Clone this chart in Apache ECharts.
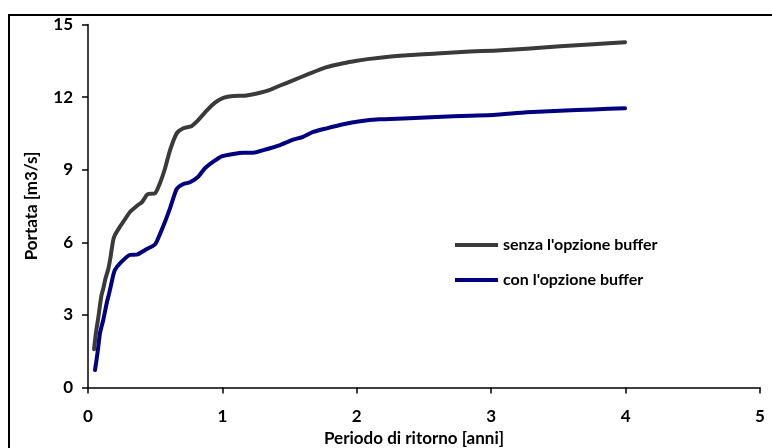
<!DOCTYPE html>
<html>
<head>
<meta charset="utf-8">
<script src="https://cdn.jsdelivr.net/npm/echarts@6/dist/echarts.min.js"></script>
<style>
  html, body { margin: 0; padding: 0; background: #fff; }
  #chart { width: 772px; height: 448px; }
</style>
</head>
<body>
<div id="chart"></div>
<script>
// Return period [years] vs discharge [m3/s]
const seriesNames = ["senza l'opzione buffer", "con l'opzione buffer"];

const senzaBuffer = [
  [0.045, 1.58], [0.06, 2.3], [0.077, 2.9], [0.089, 3.4], [0.10, 3.8], [0.114, 4.1],
  [0.13, 4.5], [0.151, 4.9], [0.165, 5.3], [0.176, 5.7], [0.188, 6.1], [0.20, 6.3],
  [0.238, 6.65], [0.263, 6.85], [0.3125, 7.25], [0.374, 7.55], [0.40, 7.65], [0.437, 7.95],
  [0.45, 8.0], [0.50, 8.03], [0.536, 8.45], [0.573, 9.05], [0.61, 9.8], [0.66, 10.5],
  [0.709, 10.71], [0.77, 10.8], [0.82, 11.05], [0.883, 11.44], [0.945, 11.77], [1.007, 11.97],
  [1.08, 12.05], [1.18, 12.07], [1.28, 12.18], [1.354, 12.3], [1.43, 12.48], [1.503, 12.64],
  [1.652, 12.98], [1.776, 13.24], [1.90, 13.4], [2.0, 13.5], [2.098, 13.58], [2.346, 13.72],
  [2.594, 13.8], [2.842, 13.88], [3.016, 13.92], [3.264, 14.0], [3.512, 14.1], [3.76, 14.18],
  [3.996, 14.27]
];

const conBuffer = [
  [0.052, 0.72], [0.065, 1.2], [0.077, 1.7], [0.089, 2.24], [0.10, 2.5], [0.114, 2.8],
  [0.139, 3.48], [0.16, 3.95], [0.176, 4.35], [0.188, 4.65], [0.20, 4.86], [0.238, 5.13],
  [0.3125, 5.48], [0.362, 5.49], [0.437, 5.72], [0.50, 5.92], [0.536, 6.35], [0.573, 6.85],
  [0.61, 7.4], [0.66, 8.2], [0.709, 8.41], [0.759, 8.48], [0.82, 8.71], [0.87, 9.06],
  [0.932, 9.33], [0.995, 9.55], [1.08, 9.65], [1.156, 9.70], [1.23, 9.70], [1.305, 9.81],
  [1.43, 10.02], [1.528, 10.24], [1.60, 10.36], [1.676, 10.56], [1.776, 10.71], [1.90, 10.88],
  [2.024, 11.0], [2.17, 11.08], [2.346, 11.12], [2.594, 11.18], [2.842, 11.23], [3.016, 11.26],
  [3.264, 11.37], [3.512, 11.44], [3.76, 11.49], [3.996, 11.54]
];

const xTicks = [0, 1, 2, 3, 4, 5];
const yTicks = [0, 3, 6, 9, 12, 15];

const FONT = 'Lato';
const chart = echarts.init(document.getElementById('chart'), null, { renderer: 'canvas' });

const labelStyle = { color: '#000', fontFamily: FONT, fontWeight: 'bold', fontSize: 17 };

const axisCommon = {
  axisLine: { show: true, onZero: false, lineStyle: { color: '#000', width: 1.5 } },
  axisTick: { show: true, inside: false, length: 6, lineStyle: { color: '#000', width: 1.5 } },
  splitLine: { show: false }
};

chart.setOption({
  animation: false,
  backgroundColor: '#fff',
  grid: {
    left: 88, right: 12, top: 24.5, bottom: 60.5,
    containLabel: false,
    outerBoundsMode: 'none'
  },
  graphic: [{
    type: 'rect',
    shape: { x: 9, y: 15, width: 900, height: 600 },
    style: { fill: 'none', stroke: '#000', lineWidth: 2 },
    silent: true,
    z: -1
  }],
  xAxis: Object.assign({}, axisCommon, {
    type: 'value',
    min: xTicks[0],
    max: xTicks[xTicks.length - 1],
    interval: 1,
    name: 'Periodo di ritorno [anni]',
    nameLocation: 'middle',
    nameGap: 42,
    nameTextStyle: Object.assign({}, labelStyle, { padding: [0, 20, 0, 0] }),
    axisLabel: Object.assign({}, labelStyle, { margin: 21 })
  }),
  yAxis: Object.assign({}, axisCommon, {
    type: 'value',
    min: yTicks[0],
    max: yTicks[yTicks.length - 1],
    interval: 3,
    name: 'Portata [m3/s]',
    nameLocation: 'middle',
    nameGap: 48,
    nameTextStyle: labelStyle,
    axisLabel: Object.assign({}, labelStyle, { margin: 15 })
  }),
  legend: {
    orient: 'vertical',
    left: 450,
    top: 232,
    icon: 'rect',
    itemWidth: 43,
    itemHeight: 4,
    itemGap: 19,
    textStyle: { color: '#000', fontFamily: FONT, fontWeight: 'bold', fontSize: 16 },
    data: seriesNames
  },
  series: [
    {
      name: seriesNames[0],
      type: 'line',
      data: senzaBuffer,
      showSymbol: false,
      symbol: 'none',
      smooth: 0.2,
      lineStyle: { color: '#3a3a3a', width: 4, cap: 'round', join: 'round' },
      itemStyle: { color: '#3a3a3a' }
    },
    {
      name: seriesNames[1],
      type: 'line',
      data: conBuffer,
      showSymbol: false,
      symbol: 'none',
      smooth: 0.2,
      lineStyle: { color: '#000080', width: 4, cap: 'round', join: 'round' },
      itemStyle: { color: '#000080' }
    }
  ]
});
</script>
</body>
</html>
